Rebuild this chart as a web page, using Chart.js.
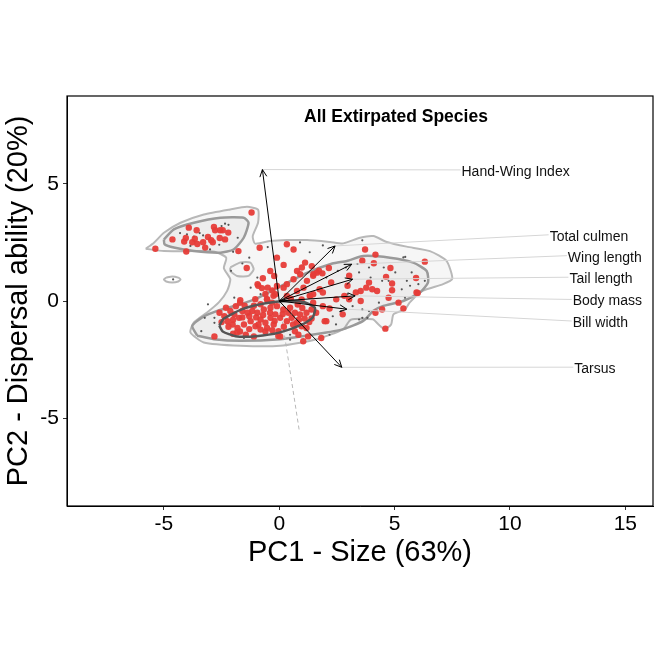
<!DOCTYPE html>
<html>
<head>
<meta charset="utf-8">
<script src="https://cdn.jsdelivr.net/npm/chart.js@4.4.1/dist/chart.umd.min.js"></script>
<style>
  html, body { margin: 0; padding: 0; background: #fff; }
  #wrap { width: 664px; height: 664px; }
</style>
</head>
<body>
<div id="wrap"><canvas id="chart" width="664" height="664"></canvas></div>
<script>
const FONT = '"Liberation Sans", Arial, sans-serif';

// axes
const xRange = [-9.2, 16.2];
const yRange = [-8.75, 8.75];
const xTicks = [-5, 0, 5, 10, 15];
const yTicks = [-5, 0, 5];

// title annotation
const plotTitle = "All Extirpated Species";
const titlePos = [5.06, 7.86];

// loadings (arrows) and their labels
const arrowNames = ["Hand-Wing Index", "Total culmen", "Wing length", "Tail length", "Body mass", "Bill width", "Tarsus"];
const arrowX = [-0.73, 2.42, 3.14, 3.18, 3.29, 2.93, 2.71];
const arrowY = [5.61, 2.35, 1.57, 0.93, 0.22, -0.35, -2.83];
const labelX = [7.90, 11.72, 12.51, 12.58, 12.72, 12.72, 12.79];
const labelY = [5.51, 2.74, 1.85, 0.93, -0.02, -0.94, -2.91];

// extirpated species scores (red)
const redPoints = [
  [-1.20, 3.78], [-5.37, 2.23], [-4.63, 2.63], [-3.92, 3.13], [-3.58, 3.02], [-4.05, 2.69], [-4.12, 2.54],
  [-3.77, 2.51], [-3.66, 2.66], [-3.55, 2.43], [-4.03, 2.11], [-3.21, 2.28], [-3.30, 2.51], [-3.09, 2.73],
  [-2.95, 2.59], [-2.83, 3.16], [-2.78, 3.02], [-2.56, 3.02], [-2.45, 3.02], [-2.21, 2.92], [-2.58, 2.69],
  [-2.35, 2.63], [-2.88, 2.51], [-1.77, 2.13], [-1.41, 1.41],
  [-0.10, 1.85], [0.19, 1.54], [-0.39, 1.28], [-0.22, 1.07], [-0.71, 0.97], [-0.94, 0.72], [-0.75, 0.55],
  [-0.10, 0.64], [0.19, 0.57], [0.33, 0.72], [-1.04, 0.08], [-0.53, 0.08], [-1.69, 0.03], [-0.25, 0.22],
  [0.77, 1.28], [0.98, 1.43], [1.12, 1.64], [1.41, 1.49], [1.63, 1.21], [0.62, 0.93], [0.91, 1.14],
  [1.20, 0.86], [1.48, 1.14], [0.77, 0.43], [1.05, 0.57], [1.34, 0.22], [0.33, 2.42], [0.62, 2.20],
  [-0.91, 0.65], [-0.50, 0.57], [-0.17, 0.29], [-1.70, -0.07], [-2.12, -0.43], [-1.95, -0.57], [-1.74, -0.72],
  [-1.38, -0.50], [-1.17, -0.43], [-0.95, -0.50], [-0.67, -0.36], [-0.38, -0.29], [-0.10, -0.22], [0.18, -0.36],
  [0.47, -0.29], [0.68, -0.50], [0.90, -0.57], [1.18, -0.50], [1.40, -0.36], [-2.24, -0.86], [-2.02, -1.00],
  [-1.81, -1.15], [-1.53, -1.00], [-1.24, -0.86], [-1.03, -1.08], [-0.81, -0.79], [-0.60, -0.93], [-0.38, -0.72],
  [-0.17, -0.57], [0.04, -0.72], [0.33, -0.86], [0.54, -0.72], [0.76, -0.93], [0.97, -1.08], [0.68, -1.29],
  [0.04, -1.51], [-0.03, -1.29], [-1.10, -1.51], [-1.45, -1.44], [-2.81, -1.51], [-2.38, -0.65], [-2.59, -0.50],
  [-1.88, -0.22], [-0.53, 0.07], [-0.31, -0.07], [-0.81, -0.14], [0.33, 0.22], [0.83, -1.44], [1.18, -1.15],
  [1.25, -1.51], [1.04, -1.72], [-0.81, -1.22], [-0.53, -1.15], [-0.24, -1.00], [-1.60, -0.43], [-2.31, -0.29],
  [0.97, 0.07], [1.32, 0.22], [-1.83, -1.34],
  [-2.00, -0.80], [-1.60, -0.70], [-1.30, -0.65], [-1.00, -0.70], [-0.70, -0.60], [-0.40, -0.50], [-0.20, -0.85],
  [0.15, -0.55], [0.40, -0.50], [0.60, -1.00], [0.85, -0.80], [1.10, -0.75], [-1.70, -1.30], [-1.30, -1.20],
  [-0.90, -1.00], [-0.60, -1.30], [-0.30, -1.25], [0.20, -1.10], [-2.20, -1.10], [-2.50, -0.90], [-1.50, -0.20],
  [-1.10, -0.20], [-0.60, 0.30], [-0.30, 0.45], [0.50, 0.10], [0.80, -0.15], [1.00, -0.30], [1.30, -0.90],
  [1.60, -0.50], [-2.00, -1.40],
  [3.72, 2.20], [4.17, 1.98], [6.31, 1.68], [3.60, 1.72], [4.10, 1.61], [2.15, 1.41], [1.72, 1.29],
  [1.87, 1.18], [1.47, 1.08], [3.03, 1.08], [4.82, 1.41], [4.63, 1.03], [5.93, 0.98], [2.25, 0.79],
  [2.96, 0.65], [3.89, 0.79], [3.77, 0.57], [4.03, 0.50], [3.53, 0.43], [3.32, 0.36], [4.24, 0.43],
  [4.89, 0.75], [4.89, 0.46], [6.00, 0.34], [1.75, 0.50], [1.89, 0.36], [1.47, 0.29], [2.82, 0.22],
  [3.53, 0.00], [3.03, 0.07], [2.47, 0.07], [4.74, 0.14], [5.17, -0.07], [5.38, -0.32], [4.46, -0.36],
  [4.17, -0.50], [2.18, -0.32], [1.89, -0.22], [1.40, -0.75], [1.97, -0.86], [4.60, -1.18], [1.47, -0.07],
  [1.82, -1.58], [2.04, -0.86], [2.75, -0.57], [5.95, 0.36], [-0.85, 2.27], [-0.04, -1.49]
];

// other species scores (small grey)
const greyPoints = [
  [-4.30, 2.90], [-4.00, 2.85], [-3.70, 2.75], [-3.45, 2.90], [-3.30, 2.80], [-2.50, 3.20], [-2.35, 3.30],
  [-2.20, 3.25], [-2.60, 2.40], [-3.00, 2.20], [-1.80, 2.70], [-3.85, 2.35], [-2.00, 2.10], [-1.60, 1.60],
  [-1.30, 1.85], [-4.60, 0.92], [-3.38, -1.29], [-2.81, -0.93], [-3.23, -0.72], [-1.67, 0.00], [-0.81, 0.29],
  [-1.53, -1.58], [0.47, -1.65], [-2.09, 1.29], [-1.95, 0.14], [-1.24, 0.57], [-0.95, 1.00], [-3.09, -0.14],
  [-2.81, -0.72], [0.47, -1.44], [2.18, -1.44], [2.46, -1.00], [3.60, -0.72], [3.89, -0.43], [1.89, 2.37],
  [1.32, 2.08], [5.38, 1.86], [4.53, 1.43], [5.03, 1.22], [5.74, 1.22], [3.89, 1.43], [3.46, 1.22],
  [3.96, 1.00], [4.46, 0.86], [5.31, 0.50], [5.45, 0.14], [4.32, -0.07], [3.60, -0.36], [3.18, -0.22],
  [2.68, -0.43], [3.82, -0.72], [3.46, -0.79], [2.32, -0.65], [2.96, 0.29], [2.04, 1.00], [2.54, 1.29],
  [2.89, 1.43], [3.39, 1.58], [4.74, 0.86], [5.67, 0.65], [5.53, 0.86], [6.03, 0.72], [6.31, 0.86],
  [3.60, 2.59], [5.46, 1.88], [0.90, 2.50], [-0.50, 2.30]
];

// density contours
const outerContour = [
  [-5.79, 2.23], [-5.43, 2.49], [-5.00, 2.91], [-4.28, 3.34], [-3.27, 3.69], [-2.12, 3.91], [-1.40, 4.02],
  [-0.92, 3.90], [-0.92, 3.34], [-1.15, 2.77], [-1.05, 2.45], [-0.39, 2.56], [0.33, 2.60], [1.20, 2.60],
  [2.20, 2.52], [2.78, 2.46], [3.50, 2.70], [4.08, 2.77], [4.66, 2.52], [5.52, 2.32], [6.53, 2.13],
  [7.25, 1.71], [7.50, 0.95], [7.10, 0.72], [6.20, 0.43], [5.65, -0.07], [5.45, -0.36], [4.95, -0.57],
  [4.85, -1.00], [4.57, -1.20], [4.30, -1.00], [4.05, -0.78], [3.10, -0.80], [2.78, -1.20], [1.63, -1.63],
  [0.04, -1.91], [-1.69, -1.91], [-3.27, -1.77], [-3.85, -1.34], [-3.70, -0.91], [-3.13, -0.49],
  [-2.62, -0.06], [-2.26, 0.43], [-2.12, 0.93], [-2.40, 1.40], [-2.30, 1.85], [-2.80, 2.10], [-3.56, 2.13],
  [-5.00, 2.13]
];
const hookContour = [[-2.12, 1.43], [-1.69, 1.64], [-1.25, 1.64], [-1.11, 1.35], [-1.33, 1.07], [-1.83, 1.07], [-2.12, 1.28]];
const smallContour = [[-4.90, 1.00], [-4.64, 1.05], [-4.38, 1.00], [-4.28, 0.92], [-4.38, 0.83], [-4.64, 0.79], [-4.90, 0.83], [-5.00, 0.92]];
const middleBlob = [
  [-5.00, 2.63], [-4.57, 3.06], [-3.70, 3.34], [-2.55, 3.55], [-1.54, 3.55], [-1.33, 3.34], [-1.54, 2.70],
  [-1.98, 2.20], [-2.55, 2.06], [-3.70, 2.13], [-4.57, 2.28], [-4.97, 2.42]
];
const middleMain = [
  [-3.56, -1.48], [-3.77, -1.06], [-3.34, -0.70], [-2.69, -0.42], [-1.69, -0.14], [-1.00, 0.10], [0.00, 0.60],
  [1.20, 1.20], [2.30, 1.60], [2.93, 1.71], [3.64, 1.92], [4.80, 1.85], [5.81, 1.64], [6.39, 1.28],
  [6.45, 0.79], [6.10, 0.36], [5.37, 0.00], [4.51, -0.21], [4.08, -0.42], [3.64, -0.85], [2.78, -1.20],
  [1.63, -1.41], [0.04, -1.63], [-1.69, -1.70], [-2.84, -1.63]
];
const innerEllipse = [
  [-2.60, -1.05], [-2.40, -0.75], [-1.60, -0.35], [-0.60, -0.10], [0.30, 0.00], [1.10, -0.05], [1.55, -0.30],
  [1.45, -0.70], [1.00, -1.00], [0.00, -1.35], [-1.00, -1.50], [-1.90, -1.50], [-2.45, -1.30]
];

// faint dashed loading
const dashedLine = [[0, 0], [0.87, -5.55]];

const toXY = pts => pts.map(([x, y]) => ({ x, y }));
const closed = pts => toXY(pts.concat([pts[0]]));

function contour(pts, color, width, fillColor, order) {
  return {
    data: closed(pts),
    showLine: true,
    borderColor: color,
    borderWidth: width,
    backgroundColor: fillColor,
    fill: fillColor ? 'shape' : false,
    pointRadius: 0,
    tension: 0.2,
    order: order
  };
}

// draws frame, arrows, labels and title on top of the points
const biplotPlugin = {
  id: 'biplot',
  afterDatasetsDraw(chart) {
    const { ctx, chartArea, scales: { x, y } } = chart;
    const px = v => x.getPixelForValue(v);
    const py = v => y.getPixelForValue(v);
    ctx.save();

    // label connector lines
    ctx.strokeStyle = '#d6d6d6';
    ctx.lineWidth = 1;
    arrowNames.forEach((n, i) => {
      ctx.beginPath();
      ctx.moveTo(px(arrowX[i]), py(arrowY[i]));
      ctx.lineTo(px(labelX[i]) - 1, py(labelY[i]) - 2);
      ctx.stroke();
    });

    // arrows
    ctx.strokeStyle = '#000';
    ctx.lineWidth = 1;
    const x0 = px(0), y0 = py(0);
    arrowNames.forEach((n, i) => {
      const x1 = px(arrowX[i]), y1 = py(arrowY[i]);
      const a = Math.atan2(y1 - y0, x1 - x0);
      const len = 8, spread = Math.PI / 7;
      ctx.beginPath();
      ctx.moveTo(x0, y0);
      ctx.lineTo(x1, y1);
      ctx.moveTo(x1 - len * Math.cos(a - spread), y1 - len * Math.sin(a - spread));
      ctx.lineTo(x1, y1);
      ctx.lineTo(x1 - len * Math.cos(a + spread), y1 - len * Math.sin(a + spread));
      ctx.stroke();
    });

    // labels
    ctx.fillStyle = '#111';
    ctx.font = '14px ' + FONT;
    ctx.textAlign = 'left';
    ctx.textBaseline = 'middle';
    arrowNames.forEach((n, i) => ctx.fillText(n, px(labelX[i]), py(labelY[i])));

    // title
    ctx.fillStyle = '#000';
    ctx.font = 'bold 17.5px ' + FONT;
    ctx.textAlign = 'center';
    ctx.fillText(plotTitle, px(titlePos[0]), py(titlePos[1]));

    // panel border
    ctx.strokeStyle = '#000';
    ctx.lineWidth = 1.2;
    ctx.strokeRect(chartArea.left, chartArea.top, chartArea.width, chartArea.height);
    ctx.restore();
  }
};

const ctxChart = document.querySelector("#chart").getContext("2d");

new Chart(ctxChart, {
  type: "scatter",
  data: {
    datasets: [
      contour(outerContour, '#b8b8b8', 2, 'rgba(0,0,0,0.035)', 20),
      contour(hookContour, '#b8b8b8', 2, null, 19),
      contour(smallContour, '#b8b8b8', 2, null, 19),
      contour(middleBlob, '#9a9a9a', 2.5, 'rgba(0,0,0,0.04)', 18),
      contour(middleMain, '#9a9a9a', 2.5, 'rgba(0,0,0,0.04)', 18),
      {
        data: toXY(dashedLine),
        showLine: true,
        borderColor: '#b8b8b8',
        borderWidth: 1,
        borderDash: [4, 3],
        pointRadius: 0,
        order: 15
      },
      {
        data: toXY(greyPoints),
        pointRadius: 1.1,
        backgroundColor: '#555',
        borderWidth: 0,
        order: 10
      },
      {
        data: toXY(redPoints),
        pointRadius: 3.2,
        backgroundColor: 'rgba(230,60,56,0.95)',
        borderWidth: 0,
        order: 5
      },
      contour(innerEllipse, '#555', 2.5, null, 2)
    ]
  },
  options: {
    responsive: false,
    animation: false,
    layout: { padding: { top: 96, right: 11, bottom: 88, left: 0 } },
    plugins: {
      legend: { display: false },
      tooltip: { enabled: false }
    },
    scales: {
      x: {
        type: 'linear',
        min: xRange[0],
        max: xRange[1],
        afterBuildTicks: s => { s.ticks = xTicks.map(v => ({ value: v })); },
        afterFit: s => { s.height = 70; },
        ticks: { font: { family: FONT, size: 21 }, color: '#000', padding: 2, maxRotation: 0, autoSkip: false },
        grid: { display: true, drawOnChartArea: false, drawTicks: true, tickLength: 4, color: '#333' },
        border: { display: true, color: '#000', width: 1 },
        title: { display: true, text: 'PC1 - Size (63%)', font: { family: FONT, size: 29 }, color: '#000', padding: { top: 0, bottom: 6 } }
      },
      y: {
        type: 'linear',
        min: yRange[0],
        max: yRange[1],
        afterBuildTicks: s => { s.ticks = yTicks.map(v => ({ value: v })); },
        afterFit: s => { s.width = 67; },
        ticks: { font: { family: FONT, size: 21 }, color: '#000', padding: 4, autoSkip: false },
        grid: { display: true, drawOnChartArea: false, drawTicks: true, tickLength: 4, color: '#333' },
        border: { display: true, color: '#000', width: 1 },
        title: { display: true, text: 'PC2 - Dispersal ability (20%)', font: { family: FONT, size: 29 }, color: '#000', padding: { top: 2, bottom: 0 } }
      }
    }
  },
  plugins: [biplotPlugin]
});
</script>
</body>
</html>
